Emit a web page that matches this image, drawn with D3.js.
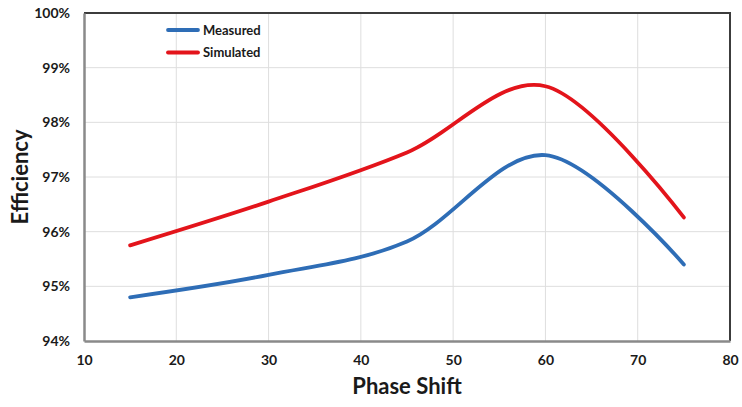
<!DOCTYPE html>
<html><head><meta charset="utf-8">
<script src="https://cdn.jsdelivr.net/npm/d3@7"></script>
<style>body{margin:0;background:#fff}svg{display:block}text{font-family:Lato,"Open Sans",sans-serif;font-weight:bold;fill:#1a1a1a}</style>
</head><body><svg id="c" width="742" height="407"></svg>
<script>
const phaseShift = [15, 30, 45, 60, 75];
const measured = [94.80, 95.21, 95.82, 97.40, 95.40];
const simulated = [95.75, 96.55, 97.45, 98.66, 96.26];
const seriesNames = ["Measured", "Simulated"];
const seriesColors = ["#2e6db6", "#e3141b"];
const xTicks = [10, 20, 30, 40, 50, 60, 70, 80];
const yTicks = [94, 95, 96, 97, 98, 99, 100];

const svg = d3.select("#c");
const m = {l: 84, r: 12, t: 13, b: 66};
const W = 742, H = 407;
const x = d3.scaleLinear().domain([10, 80]).range([m.l, W - m.r]);
const y = d3.scaleLinear().domain([94, 100]).range([H - m.b, m.t]);

// gridlines
svg.append("g").selectAll("line").data(xTicks.slice(1)).join("line")
  .attr("x1", d => x(d)).attr("x2", d => x(d)).attr("y1", y(94)).attr("y2", y(100))
  .attr("stroke", "#dedede").attr("stroke-width", 1);
svg.append("g").selectAll("line").data(yTicks.slice(1)).join("line")
  .attr("x1", x(10)).attr("x2", x(80)).attr("y1", d => y(d)).attr("y2", d => y(d))
  .attr("stroke", "#dedede").attr("stroke-width", 1);

// frame (top/right dark)
svg.append("path").attr("d", `M${x(10)},${y(100)}H${x(80)}V${y(94)}`)
  .attr("fill", "none").attr("stroke", "#3c3c3c").attr("stroke-width", 2);

// axes
const xa = svg.append("g").attr("transform", `translate(0,${y(94)})`)
  .call(d3.axisBottom(x).tickValues(xTicks).tickSize(0).tickPadding(14));
xa.select(".domain").attr("stroke", "#8a8a8a").attr("stroke-width", 2.5);
xa.selectAll("text").attr("font-size", 14).attr("fill", "#1a1a1a");
const ya = svg.append("g").attr("transform", `translate(${x(10)},0)`)
  .call(d3.axisLeft(y).tickValues(yTicks).tickSize(0).tickPadding(14).tickFormat(d => d + "%"));
ya.select(".domain").attr("stroke", "#8a8a8a").attr("stroke-width", 2.5);
ya.selectAll("text").attr("font-size", 14).attr("fill", "#1a1a1a");
svg.selectAll(".tick text").style("font-family", "Lato, 'Open Sans', sans-serif").style("font-weight", "bold");

// lines
const line = d3.line().x(d => x(d[0])).y(d => y(d[1])).curve(d3.curveCatmullRom.alpha(0));
[measured, simulated].forEach((vals, i) => {
  svg.append("path").datum(phaseShift.map((p, j) => [p, vals[j]]))
    .attr("d", line).attr("fill", "none").attr("stroke", seriesColors[i])
    .attr("stroke-width", 3.8).attr("stroke-linecap", "round");
});

// legend
seriesNames.forEach((n, i) => {
  const ly = 30 + i * 22.5;
  svg.append("line").attr("x1", 168).attr("x2", 198).attr("y1", ly).attr("y2", ly)
    .attr("stroke", seriesColors[i]).attr("stroke-width", 3.8).attr("stroke-linecap", "round");
  svg.append("text").attr("x", 203).attr("y", ly).attr("dy", "0.35em")
    .attr("font-size", 13).text(n);
});

// axis titles
svg.append("text").attr("x", (x(10) + x(80)) / 2).attr("y", 394).attr("text-anchor", "middle")
  .attr("font-size", 22).text("Phase Shift");
svg.append("text").attr("transform", `translate(28,${(y(94) + y(100)) / 2}) rotate(-90)`)
  .attr("text-anchor", "middle").attr("font-size", 22).text("Efficiency");
</script></body></html>
